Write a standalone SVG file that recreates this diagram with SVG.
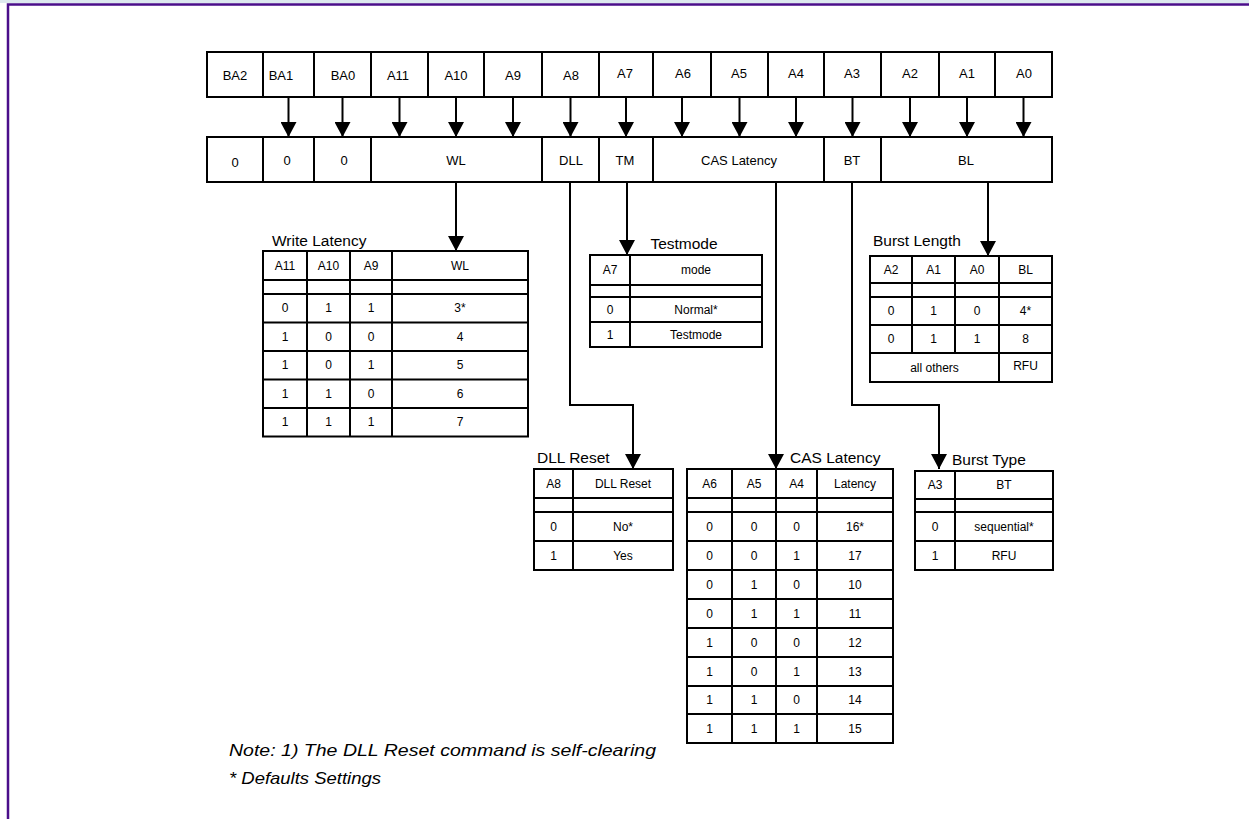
<svg xmlns="http://www.w3.org/2000/svg" width="1249" height="819" viewBox="0 0 1249 819">
  <defs>
    <style>
      .cell { fill: #ffffff; stroke: #000000; stroke-width: 2; }
      .grid { fill: none; stroke: #000000; stroke-width: 2; }
      .lbl { font-family: "Liberation Sans", Arial, Helvetica, sans-serif; font-size: 13px; fill: #000000; text-anchor: middle; dominant-baseline: central; }
      .tl { font-family: "Liberation Sans", Arial, Helvetica, sans-serif; font-size: 12px; fill: #000000; text-anchor: middle; dominant-baseline: central; }
      .title { font-family: "Liberation Sans", Arial, Helvetica, sans-serif; font-size: 15.5px; fill: #000000; }
      .note { font-family: "Liberation Sans", Arial, Helvetica, sans-serif; font-size: 17px; font-style: italic; fill: #000000; }
      .wire { fill: none; stroke: #000000; stroke-width: 2; }
      .frame { fill: none; stroke: #4a0e8a; stroke-width: 2.5; }
    </style>
    <marker id="head" viewBox="0 0 16 15" refX="8" refY="15" markerWidth="16" markerHeight="15" markerUnits="userSpaceOnUse" orient="0">
      <path d="M0,0 L16,0 L8,15 Z" fill="#000000"/>
    </marker>
  </defs>

  <!-- page background and frame -->
  <rect x="0" y="0" width="1249" height="819" fill="#ffffff"/>
  <rect x="0" y="0" width="1249" height="3" fill="#dde9ef"/>
  <path class="frame" d="M8,819 L8,4.5 L1249,4.5"/>

  <!-- address bits -->
  <g id="address-bits">
    <g id="bit-BA2"><rect class="cell" x="207" y="52" width="56" height="45"/><text class="lbl" x="235" y="75">BA2</text></g>
    <g id="bit-BA1"><rect class="cell" x="263" y="52" width="51" height="45"/><text class="lbl" x="281" y="75">BA1</text></g>
    <g id="bit-BA0"><rect class="cell" x="314" y="52" width="57" height="45"/><text class="lbl" x="343" y="75">BA0</text></g>
    <g id="bit-A11"><rect class="cell" x="371" y="52" width="57" height="45"/><text class="lbl" x="398" y="75">A11</text></g>
    <g id="bit-A10"><rect class="cell" x="428" y="52" width="56" height="45"/><text class="lbl" x="456" y="75">A10</text></g>
    <g id="bit-A9"><rect class="cell" x="484" y="52" width="58" height="45"/><text class="lbl" x="513" y="75">A9</text></g>
    <g id="bit-A8"><rect class="cell" x="542" y="52" width="57" height="45"/><text class="lbl" x="571" y="75">A8</text></g>
    <g id="bit-A7"><rect class="cell" x="599" y="52" width="54" height="45"/><text class="lbl" x="625" y="73">A7</text></g>
    <g id="bit-A6"><rect class="cell" x="653" y="52" width="58" height="45"/><text class="lbl" x="683" y="73">A6</text></g>
    <g id="bit-A5"><rect class="cell" x="711" y="52" width="57" height="45"/><text class="lbl" x="739" y="73">A5</text></g>
    <g id="bit-A4"><rect class="cell" x="768" y="52" width="56" height="45"/><text class="lbl" x="796" y="73">A4</text></g>
    <g id="bit-A3"><rect class="cell" x="824" y="52" width="57" height="45"/><text class="lbl" x="852" y="73">A3</text></g>
    <g id="bit-A2"><rect class="cell" x="881" y="52" width="58" height="45"/><text class="lbl" x="910" y="73">A2</text></g>
    <g id="bit-A1"><rect class="cell" x="939" y="52" width="56" height="45"/><text class="lbl" x="967" y="73">A1</text></g>
    <g id="bit-A0"><rect class="cell" x="995" y="52" width="57" height="45"/><text class="lbl" x="1024" y="73">A0</text></g>
  </g>

  <!-- register fields -->
  <g id="fields">
    <g id="field-BA2"><rect class="cell" x="207" y="137" width="56" height="45"/><text class="lbl" x="235" y="162">0</text></g>
    <g id="field-BA1"><rect class="cell" x="263" y="137" width="51" height="45"/><text class="lbl" x="287" y="160">0</text></g>
    <g id="field-BA0"><rect class="cell" x="314" y="137" width="57" height="45"/><text class="lbl" x="344" y="160">0</text></g>
    <g id="field-WL"><rect class="cell" x="371" y="137" width="171" height="45"/><text class="lbl" x="456" y="160">WL</text></g>
    <g id="field-DLL"><rect class="cell" x="542" y="137" width="57" height="45"/><text class="lbl" x="571" y="160">DLL</text></g>
    <g id="field-TM"><rect class="cell" x="599" y="137" width="54" height="45"/><text class="lbl" x="625" y="160">TM</text></g>
    <g id="field-CAS"><rect class="cell" x="653" y="137" width="171" height="45"/><text class="lbl" x="739" y="160">CAS Latency</text></g>
    <g id="field-BT"><rect class="cell" x="824" y="137" width="57" height="45"/><text class="lbl" x="852" y="160">BT</text></g>
    <g id="field-BL"><rect class="cell" x="881" y="137" width="171" height="45"/><text class="lbl" x="966" y="160">BL</text></g>
  </g>

  <!-- connectors -->
  <g id="connectors">
    <path class="wire" marker-end="url(#head)" d="M288.5,97 V137"/>
    <path class="wire" marker-end="url(#head)" d="M342.5,97 V137"/>
    <path class="wire" marker-end="url(#head)" d="M399.5,97 V137"/>
    <path class="wire" marker-end="url(#head)" d="M456,97 V137"/>
    <path class="wire" marker-end="url(#head)" d="M513,97 V137"/>
    <path class="wire" marker-end="url(#head)" d="M570.5,97 V137"/>
    <path class="wire" marker-end="url(#head)" d="M626,97 V137"/>
    <path class="wire" marker-end="url(#head)" d="M682,97 V137"/>
    <path class="wire" marker-end="url(#head)" d="M739.5,97 V137"/>
    <path class="wire" marker-end="url(#head)" d="M796,97 V137"/>
    <path class="wire" marker-end="url(#head)" d="M852.5,97 V137"/>
    <path class="wire" marker-end="url(#head)" d="M910,97 V137"/>
    <path class="wire" marker-end="url(#head)" d="M967,97 V137"/>
    <path class="wire" marker-end="url(#head)" d="M1023.5,97 V137"/>

    <path class="wire" marker-end="url(#head)" d="M456,182 V251"/>
    <path class="wire" marker-end="url(#head)" d="M627,182 V255"/>
    <path class="wire" marker-end="url(#head)" d="M570,182 V405 H633 V469"/>
    <path class="wire" marker-end="url(#head)" d="M776,182 V469"/>
    <path class="wire" marker-end="url(#head)" d="M852,182 V405 H939 V469"/>
    <path class="wire" marker-end="url(#head)" d="M988,182 V256"/>
  </g>

  <!-- Write Latency table -->
  <g id="write-latency">
    <text class="title" x="272" y="246">Write Latency</text>
    <rect class="grid" x="263" y="251" width="265" height="185.5"/>
    <path class="grid" d="M307,251 V436.5 M350,251 V436.5 M392,251 V436.5 M263,280 H528 M263,294 H528 M263,322.5 H528 M263,351 H528 M263,379.5 H528 M263,408 H528"/>
    <text class="tl" x="285" y="266">A11</text><text class="tl" x="328.5" y="266">A10</text><text class="tl" x="371" y="266">A9</text><text class="tl" x="460" y="266">WL</text>
    <text class="tl" x="285" y="308">0</text><text class="tl" x="328.5" y="308">1</text><text class="tl" x="371" y="308">1</text><text class="tl" x="460" y="308">3*</text>
    <text class="tl" x="285" y="337">1</text><text class="tl" x="328.5" y="337">0</text><text class="tl" x="371" y="337">0</text><text class="tl" x="460" y="337">4</text>
    <text class="tl" x="285" y="365">1</text><text class="tl" x="328.5" y="365">0</text><text class="tl" x="371" y="365">1</text><text class="tl" x="460" y="365">5</text>
    <text class="tl" x="285" y="394">1</text><text class="tl" x="328.5" y="394">1</text><text class="tl" x="371" y="394">0</text><text class="tl" x="460" y="394">6</text>
    <text class="tl" x="285" y="422">1</text><text class="tl" x="328.5" y="422">1</text><text class="tl" x="371" y="422">1</text><text class="tl" x="460" y="422">7</text>
  </g>

  <!-- Testmode table -->
  <g id="testmode">
    <text class="title" x="684" y="249" text-anchor="middle">Testmode</text>
    <rect class="grid" x="590" y="255" width="172" height="92"/>
    <path class="grid" d="M630,255 V347 M590,285 H762 M590,297 H762 M590,322 H762"/>
    <text class="tl" x="610" y="270">A7</text><text class="tl" x="696" y="270">mode</text>
    <text class="tl" x="610" y="309.5">0</text><text class="tl" x="696" y="309.5">Normal*</text>
    <text class="tl" x="610" y="334.5">1</text><text class="tl" x="696" y="334.5">Testmode</text>
  </g>

  <!-- Burst Length table -->
  <g id="burst-length">
    <text class="title" x="873" y="246">Burst Length</text>
    <rect class="grid" x="870" y="256" width="182" height="126"/>
    <path class="grid" d="M912,256 V353 M955,256 V353 M999,256 V382 M870,283 H1052 M870,297 H1052 M870,325 H1052 M870,353 H1052"/>
    <text class="tl" x="891" y="269.5">A2</text><text class="tl" x="933.5" y="269.5">A1</text><text class="tl" x="977" y="269.5">A0</text><text class="tl" x="1025.5" y="269.5">BL</text>
    <text class="tl" x="891" y="311">0</text><text class="tl" x="933.5" y="311">1</text><text class="tl" x="977" y="311">0</text><text class="tl" x="1025.5" y="311">4*</text>
    <text class="tl" x="891" y="339">0</text><text class="tl" x="933.5" y="339">1</text><text class="tl" x="977" y="339">1</text><text class="tl" x="1025.5" y="339">8</text>
    <text class="tl" x="934.5" y="367.5">all others</text><text class="tl" x="1025.5" y="366">RFU</text>
  </g>

  <!-- DLL Reset table -->
  <g id="dll-reset">
    <text class="title" x="537" y="463">DLL Reset</text>
    <rect class="grid" x="534" y="469" width="139" height="101"/>
    <path class="grid" d="M573,469 V570 M534,498 H673 M534,512 H673 M534,541 H673"/>
    <text class="tl" x="553.5" y="484">A8</text><text class="tl" x="623" y="484">DLL Reset</text>
    <text class="tl" x="553.5" y="527">0</text><text class="tl" x="623" y="527">No*</text>
    <text class="tl" x="553.5" y="556">1</text><text class="tl" x="623" y="556">Yes</text>
  </g>

  <!-- CAS Latency table -->
  <g id="cas-latency">
    <text class="title" x="790" y="463">CAS Latency</text>
    <rect class="grid" x="687" y="469" width="206" height="274"/>
    <path class="grid" d="M732,469 V743 M776,469 V743 M817,469 V743 M687,498 H893 M687,512 H893 M687,541 H893 M687,570 H893 M687,599 H893 M687,628 H893 M687,657 H893 M687,686 H893 M687,714 H893"/>
    <text class="tl" x="709.5" y="484">A6</text><text class="tl" x="754" y="484">A5</text><text class="tl" x="796.5" y="484">A4</text><text class="tl" x="855" y="484">Latency</text>
    <text class="tl" x="709.5" y="527">0</text><text class="tl" x="754" y="527">0</text><text class="tl" x="796.5" y="527">0</text><text class="tl" x="855" y="527">16*</text>
    <text class="tl" x="709.5" y="556">0</text><text class="tl" x="754" y="556">0</text><text class="tl" x="796.5" y="556">1</text><text class="tl" x="855" y="556">17</text>
    <text class="tl" x="709.5" y="585">0</text><text class="tl" x="754" y="585">1</text><text class="tl" x="796.5" y="585">0</text><text class="tl" x="855" y="585">10</text>
    <text class="tl" x="709.5" y="614">0</text><text class="tl" x="754" y="614">1</text><text class="tl" x="796.5" y="614">1</text><text class="tl" x="855" y="614">11</text>
    <text class="tl" x="709.5" y="643">1</text><text class="tl" x="754" y="643">0</text><text class="tl" x="796.5" y="643">0</text><text class="tl" x="855" y="643">12</text>
    <text class="tl" x="709.5" y="671.5">1</text><text class="tl" x="754" y="671.5">0</text><text class="tl" x="796.5" y="671.5">1</text><text class="tl" x="855" y="671.5">13</text>
    <text class="tl" x="709.5" y="700">1</text><text class="tl" x="754" y="700">1</text><text class="tl" x="796.5" y="700">0</text><text class="tl" x="855" y="700">14</text>
    <text class="tl" x="709.5" y="728.5">1</text><text class="tl" x="754" y="728.5">1</text><text class="tl" x="796.5" y="728.5">1</text><text class="tl" x="855" y="728.5">15</text>
  </g>

  <!-- Burst Type table -->
  <g id="burst-type">
    <text class="title" x="952" y="465">Burst Type</text>
    <rect class="grid" x="915" y="471" width="138" height="99"/>
    <path class="grid" d="M955,471 V570 M915,499 H1053 M915,512 H1053 M915,541 H1053"/>
    <text class="tl" x="935" y="485">A3</text><text class="tl" x="1004" y="485">BT</text>
    <text class="tl" x="935" y="527">0</text><text class="tl" x="1004" y="527">sequential*</text>
    <text class="tl" x="935" y="556">1</text><text class="tl" x="1004" y="556">RFU</text>
  </g>

  <!-- notes -->
  <g id="notes">
    <text class="note" x="229" y="756" textLength="427" lengthAdjust="spacingAndGlyphs">Note: 1) The DLL Reset command is self-clearing</text>
    <text class="note" x="229" y="784" textLength="152" lengthAdjust="spacingAndGlyphs">* Defaults Settings</text>
  </g>
</svg>
